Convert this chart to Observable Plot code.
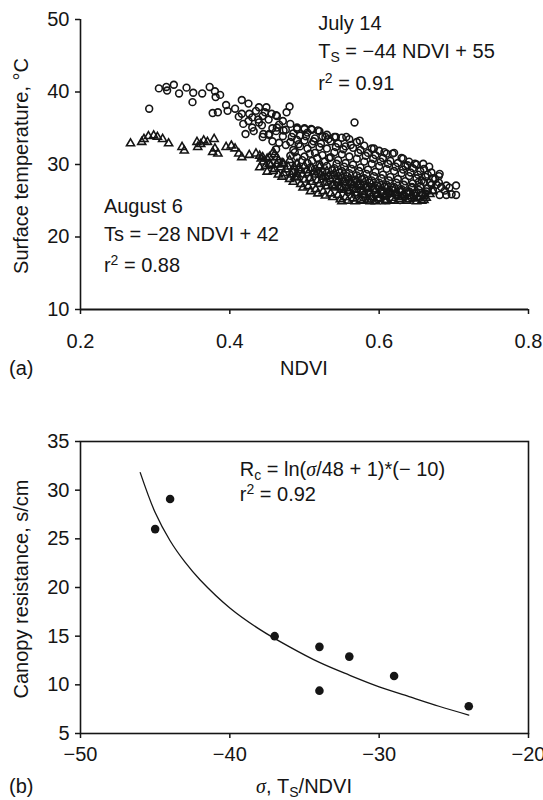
<!DOCTYPE html>
<html><head><meta charset="utf-8">
<script src="https://cdn.jsdelivr.net/npm/d3@7"></script>
<script src="https://cdn.jsdelivr.net/npm/@observablehq/plot@0.6"></script>
<style>
body{margin:0;background:#fff;width:543px;}
svg{display:block}
text{white-space:pre}
</style></head><body><div id="a"></div><div id="b"></div>
<script>
// ---------- Panel (a) data: NDVI vs surface temperature ----------
const xTicksA = [0.2, 0.4, 0.6, 0.8];
const yTicksA = [10, 20, 30, 40, 50];
// July 14 (open circles) : [NDVI, Ts]
const julySparse = [[0.292,37.7],[0.305,40.5],[0.315,40.7],[0.316,40.2],[0.325,41.0],[0.332,39.8],[0.342,40.6],[0.351,39.9],[0.350,38.6],[0.363,39.8],[0.373,40.7],[0.380,40.1],[0.377,37.1],[0.381,39.3],[0.387,39.6],[0.384,37.2],[0.395,38.2],[0.397,37.4],[0.407,37.7],[0.416,38.9],[0.425,38.4],[0.416,37.0],[0.426,37.0],[0.435,37.4],[0.439,37.9],[0.449,37.9],[0.444,36.7],[0.456,37.0],[0.463,36.7],[0.476,37.2],[0.480,38.0],[0.421,34.2],[0.430,35.1],[0.439,35.8],[0.444,33.8],[0.453,34.2],[0.463,35.1],[0.472,34.7],[0.490,34.9],[0.500,34.9],[0.509,34.9],[0.518,34.7],[0.567,35.8],[0.528,33.8],[0.542,33.8],[0.556,33.8],[0.574,33.3],[0.593,32.2],[0.607,31.7],[0.618,31.5],[0.632,30.8],[0.648,30.1],[0.659,30.1],[0.667,29.7],[0.681,28.7],[0.690,27.1],[0.703,27.1],[0.703,25.8],[0.690,25.8],[0.681,25.8],[0.672,26.5],[0.662,26.0],[0.653,27.6],[0.644,26.9],[0.425,36.0],[0.430,36.5],[0.438,36.2],[0.443,35.4],[0.447,37.2],[0.432,34.6],[0.418,35.6],[0.412,36.6],[0.445,34.2]];
const julyCore = [[0.452,36.2],[0.452,34.1],[0.457,35.0],[0.457,33.2],[0.462,36.8],[0.462,34.6],[0.462,32.1],[0.466,35.5],[0.466,33.0],[0.471,36.0],[0.471,33.9],[0.475,34.8],[0.475,32.7],[0.481,35.6],[0.481,33.1],[0.481,31.2],[0.485,34.3],[0.485,32.0],[0.49,35.1],[0.49,33.4],[0.49,31.0],[0.494,34.0],[0.494,32.5],[0.50,35.0],[0.50,33.3],[0.50,31.1],[0.504,34.4],[0.504,32.2],[0.504,30.2],[0.51,34.8],[0.51,32.8],[0.51,30.5],[0.514,33.6],[0.514,31.6],[0.514,29.4],[0.52,34.6],[0.52,32.4],[0.52,30.0],[0.524,33.9],[0.524,31.3],[0.524,29.0],[0.53,34.1],[0.53,32.2],[0.53,29.8],[0.53,27.6],[0.535,33.2],[0.535,31.0],[0.535,28.6],[0.54,33.8],[0.54,31.7],[0.54,29.5],[0.54,27.2],[0.545,32.9],[0.545,30.6],[0.545,28.4],[0.55,33.7],[0.55,31.4],[0.55,29.1],[0.55,26.9],[0.555,32.5],[0.555,30.2],[0.555,28.0],[0.56,33.5],[0.56,31.1],[0.56,28.8],[0.56,26.5],[0.565,32.3],[0.565,30.0],[0.565,27.7],[0.57,33.1],[0.57,30.8],[0.57,28.5],[0.57,26.2],[0.575,32.0],[0.575,29.6],[0.575,27.4],[0.58,32.6],[0.58,30.4],[0.58,28.1],[0.58,25.9],[0.585,31.6],[0.585,29.3],[0.585,27.0],[0.59,32.2],[0.59,30.1],[0.59,27.8],[0.59,25.6],[0.595,31.3],[0.595,29.0],[0.595,26.7],[0.60,31.9],[0.60,29.8],[0.60,27.5],[0.60,25.4],[0.605,30.9],[0.605,28.6],[0.605,26.3],[0.61,31.5],[0.61,29.4],[0.61,27.2],[0.61,25.7],[0.615,30.5],[0.615,28.3],[0.615,26.1],[0.62,31.6],[0.62,29.1],[0.62,26.9],[0.625,30.2],[0.625,28.0],[0.625,25.8],[0.63,30.9],[0.63,28.8],[0.63,26.6],[0.635,29.8],[0.635,27.7],[0.635,25.6],[0.64,30.4],[0.64,28.4],[0.64,26.3],[0.645,29.5],[0.645,27.4],[0.65,30.0],[0.65,28.1],[0.65,26.1],[0.655,29.1],[0.655,27.0],[0.66,29.4],[0.66,27.6],[0.665,28.6],[0.665,26.7],[0.67,28.9],[0.67,27.2],[0.675,28.0],[0.68,28.4],[0.68,27.5]];
const julyFill = [[0.483,33.8],[0.487,31.7],[0.492,32.8],[0.497,30.6],[0.502,33.9],[0.507,31.5],[0.508,29.6],[0.512,33.2],[0.517,30.9],[0.518,28.8],[0.522,32.9],[0.527,30.4],[0.528,28.2],[0.532,33.5],[0.533,30.9],[0.537,29.2],[0.538,27.1],[0.542,32.4],[0.543,30.1],[0.547,28.9],[0.548,26.7],[0.552,32.1],[0.553,29.7],[0.557,28.4],[0.558,26.2],[0.562,32.7],[0.563,29.4],[0.567,27.9],[0.568,25.8],[0.572,31.6],[0.573,29.1],[0.577,28.0],[0.578,25.5],[0.582,31.2],[0.583,28.7],[0.587,27.5],[0.588,25.3],[0.592,30.8],[0.593,28.4],[0.597,27.1],[0.598,25.2],[0.602,30.4],[0.603,28.1],[0.607,26.9],[0.608,25.1],[0.612,30.1],[0.613,27.8],[0.617,26.5],[0.618,25.2],[0.622,29.7],[0.623,27.5],[0.627,26.3],[0.628,25.1],[0.632,29.3],[0.633,27.2],[0.637,26.0],[0.638,29.9],[0.642,28.9],[0.643,26.8],[0.647,25.7],[0.652,28.6],[0.653,26.5],[0.657,27.8],[0.658,25.9],[0.662,28.3],[0.663,26.3],[0.668,27.5],[0.672,28.1],[0.677,27.2],[0.683,26.9],[0.688,26.4],[0.694,26.8],[0.697,25.9]];
// August 6 (open triangles) : [NDVI, Ts]
const augSparse = [[0.267,32.9],[0.282,33.1],[0.285,33.5],[0.291,33.9],[0.298,34.0],[0.303,33.8],[0.310,33.5],[0.318,32.9],[0.336,32.4],[0.339,31.9],[0.356,33.1],[0.357,32.4],[0.361,32.8],[0.365,33.3],[0.370,33.1],[0.379,33.5],[0.380,32.2],[0.384,31.5],[0.377,31.7],[0.395,32.4],[0.402,32.6],[0.407,32.2],[0.412,31.5],[0.416,31.0],[0.426,31.3],[0.435,31.5],[0.444,31.0],[0.458,31.7],[0.463,31.0],[0.453,30.1],[0.472,30.1],[0.486,29.7],[0.490,28.7]];
const augCore = [[0.44,31.2],[0.44,29.6],[0.445,30.4],[0.45,30.8],[0.45,29.0],[0.455,29.9],[0.46,31.4],[0.46,29.4],[0.465,30.5],[0.465,28.6],[0.47,30.2],[0.47,28.3],[0.475,29.3],[0.48,30.6],[0.48,28.0],[0.485,29.0],[0.485,27.6],[0.49,30.1],[0.49,28.2],[0.495,29.2],[0.495,27.3],[0.50,29.8],[0.50,27.9],[0.505,28.8],[0.505,27.0],[0.51,29.5],[0.51,27.6],[0.515,28.6],[0.515,26.6],[0.52,29.7],[0.52,27.3],[0.525,28.3],[0.525,26.3],[0.53,29.1],[0.53,27.0],[0.535,28.0],[0.535,26.0],[0.54,28.8],[0.54,26.8],[0.545,27.8],[0.545,25.8],[0.55,28.4],[0.55,26.5],[0.55,24.9],[0.555,27.5],[0.555,25.5],[0.56,28.1],[0.56,26.3],[0.565,27.2],[0.565,25.3],[0.57,27.9],[0.57,26.0],[0.575,27.0],[0.575,25.1],[0.58,27.6],[0.58,25.8],[0.585,26.7],[0.585,25.0],[0.59,27.3],[0.59,25.5],[0.595,26.4],[0.595,24.9],[0.60,27.0],[0.60,25.3],[0.605,26.2],[0.61,26.8],[0.61,25.1],[0.615,25.9],[0.62,26.6],[0.62,25.0],[0.625,25.7],[0.63,26.4],[0.63,25.5],[0.64,26.1],[0.64,25.2],[0.65,25.9],[0.65,24.9],[0.66,25.6],[0.66,25.1]];
const augFill = [[0.442,30.8],[0.448,29.8],[0.453,31.0],[0.458,29.1],[0.463,30.0],[0.468,29.6],[0.472,28.8],[0.478,29.7],[0.482,28.6],[0.487,28.3],[0.492,29.5],[0.497,28.6],[0.498,26.8],[0.503,29.2],[0.507,28.1],[0.508,26.3],[0.513,29.0],[0.517,27.8],[0.518,26.0],[0.522,28.6],[0.527,27.5],[0.528,25.7],[0.532,28.4],[0.537,27.1],[0.538,25.5],[0.542,27.9],[0.547,26.9],[0.548,25.2],[0.552,27.6],[0.557,26.7],[0.558,25.0],[0.562,27.4],[0.567,26.5],[0.568,24.9],[0.572,27.1],[0.577,26.2],[0.578,25.0],[0.582,26.9],[0.587,26.0],[0.588,24.9],[0.592,26.6],[0.597,25.8],[0.602,26.4],[0.607,25.6],[0.608,24.9],[0.612,26.2],[0.617,25.4],[0.622,26.0],[0.627,25.2],[0.632,25.8],[0.637,25.0],[0.642,25.6],[0.647,25.3],[0.652,25.5],[0.657,25.0],[0.663,25.4],[0.668,25.9],[0.672,26.3]];

// ---------- Panel (b) data: sigma vs canopy resistance ----------
const xTicksB = [-50, -40, -30, -20];
const yTicksB = [5, 10, 15, 20, 25, 30, 35];
const obsSigma = [-45, -44, -37, -34, -34, -32, -29, -24];
const obsRc    = [26.0, 29.1, 15.0, 13.9, 9.4, 12.9, 10.9, 7.8];
const fitSigma = [-46, -45, -44, -43, -42, -40, -38, -36, -34, -32, -30, -28, -26, -24];
const fitRc    = [31.8, 27.7, 24.8, 22.6, 20.8, 17.9, 15.7, 13.9, 12.3, 11.0, 9.8, 8.8, 7.8, 6.9];

const FONT = "'Liberation Sans', Arial, Helvetica, sans-serif";
const INK = "#151515";
const minus = d => (d < 0 ? "\u2212" + Math.abs(d) : String(d));

const july = julySparse.concat(julyCore, julyFill);
const aug = augSparse.concat(augCore, augFill);

const chartA = Plot.plot({
  width: 543, height: 385,
  marginLeft: 80, marginRight: 15, marginTop: 19, marginBottom: 76,
  style: {fontFamily: FONT, fontSize: "20px", color: INK, background: "white", overflow: "visible"},
  x: {domain: [0.2, 0.8]},
  y: {domain: [10, 50]},
  marks: [
    Plot.axisX({ticks: xTicksA, tickSize: 5, tickPadding: 19, tickFormat: d3.format(".1f"), label: null, strokeWidth: 1.5}),
    Plot.axisY({ticks: yTicksA, tickSize: 5, tickPadding: 6, label: null, strokeWidth: 1.5}),
    Plot.ruleX([0.2], {stroke: INK, strokeWidth: 1.6}),
    Plot.ruleY([10], {stroke: INK, strokeWidth: 1.8}),
    Plot.dot(aug, {x: d => d[0], y: d => d[1], symbol: "triangle", r: 3, stroke: INK, strokeWidth: 1.6, fill: "none"}),
    Plot.dot(july, {x: d => d[0], y: d => d[1], r: 3.4, stroke: INK, strokeWidth: 1.6, fill: "none"})
  ]
});

const pointsB = obsSigma.map((s, i) => ({s, rc: obsRc[i]}));
const curveB = fitSigma.map((s, i) => ({s, rc: fitRc[i]}));

const chartB = Plot.plot({
  width: 543, height: 415,
  marginLeft: 80, marginRight: 15, marginTop: 56, marginBottom: 67,
  style: {fontFamily: FONT, fontSize: "20px", color: INK, background: "white", overflow: "visible"},
  x: {domain: [-50, -20]},
  y: {domain: [5, 35]},
  marks: [
    Plot.axisX({ticks: xTicksB, tickSize: 5, tickPadding: 8, tickFormat: minus, label: null, strokeWidth: 1.5}),
    Plot.axisY({ticks: yTicksB, tickSize: 5, tickPadding: 6, label: null, strokeWidth: 1.5}),
    Plot.frame({stroke: INK, strokeWidth: 1.6}),
    Plot.line(curveB, {x: "s", y: "rc", curve: "catmull-rom", stroke: INK, strokeWidth: 1.3}),
    Plot.dot(pointsB, {x: "s", y: "rc", r: 4.3, fill: INK, stroke: "none"})
  ]
});

document.getElementById("a").append(chartA);
document.getElementById("b").append(chartB);

function scaleFn(chart, name) {
  const s = chart.scale(name);
  return s.apply ? (v => s.apply(v)) : d3.scaleLinear(s.domain, s.range);
}

// rich text helper: parts = [[text, kind]] kind: "sub" | "sup" | "it"
function rich(svg, x, y, parts, opts = {}) {
  const t = d3.select(svg).append("text")
    .attr("x", x).attr("y", y)
    .attr("font-family", FONT).attr("font-size", 20).attr("fill", INK)
    .attr("text-anchor", opts.anchor || "start");
  if (opts.transform) t.attr("transform", opts.transform).attr("x", 0).attr("y", 0);
  let shift = 0;
  for (const [txt, kind] of parts) {
    const s = t.append("tspan").text(txt);
    const target = kind === "sub" ? 4 : kind === "sup" ? -7 : 0;
    if (target !== shift) { s.attr("dy", target - shift); shift = target; }
    if (kind === "sub" || kind === "sup") s.attr("font-size", 14);
    if (kind === "it") s.attr("font-style", "italic").attr("font-family", "'Liberation Serif', 'Times New Roman', serif");
  }
  return t;
}

// Panel (a) annotations
const xa = scaleFn(chartA, "x"), ya = scaleFn(chartA, "y");
const julyNoteX = 0.519, julyNoteY = [48.5, 44.6, 40.2];
const augNoteX = 0.232, augNoteY = [23.2, 19.4, 15.1];
rich(chartA, xa(julyNoteX), ya(julyNoteY[0]), [["July 14"]]);
rich(chartA, xa(julyNoteX), ya(julyNoteY[1]), [["T"], ["S", "sub"], [" = \u221244 NDVI + 55"]]);
rich(chartA, xa(julyNoteX), ya(julyNoteY[2]), [["r"], ["2", "sup"], [" = 0.91"]]);
rich(chartA, xa(augNoteX), ya(augNoteY[0]), [["August 6"]]);
rich(chartA, xa(augNoteX), ya(augNoteY[1]), [["Ts = \u221228 NDVI + 42"]]);
rich(chartA, xa(augNoteX), ya(augNoteY[2]), [["r"], ["2", "sup"], [" = 0.88"]]);
rich(chartA, 304, 375, [["NDVI"]], {anchor: "middle"});
rich(chartA, 9, 375, [["(a)"]]);
rich(chartA, 0, 0, [["Surface temperature, \u00B0C"]], {anchor: "middle", transform: "translate(28,166) rotate(-90)"});

// Panel (b) annotations
const xb = scaleFn(chartB, "x"), yb = scaleFn(chartB, "y");
const fitNoteX = -39.3, fitNoteY = [31.4, 28.8];
rich(chartB, xb(fitNoteX), yb(fitNoteY[0]), [["R"], ["c", "sub"], [" = ln("], ["\u03C3", "it"], ["/48 + 1)*(\u2212 10)"]]);
rich(chartB, xb(fitNoteX), yb(fitNoteY[1]), [["r"], ["2", "sup"], [" = 0.92"]]);
rich(chartB, 304, 408, [["\u03C3", "it"], [", T"], ["S", "sub"], ["/NDVI"]], {anchor: "middle"});
rich(chartB, 9, 408, [["(b)"]]);
rich(chartB, 0, 0, [["Canopy resistance, s/cm"]], {anchor: "middle", transform: "translate(28,204) rotate(-90)"});
</script></body></html>
